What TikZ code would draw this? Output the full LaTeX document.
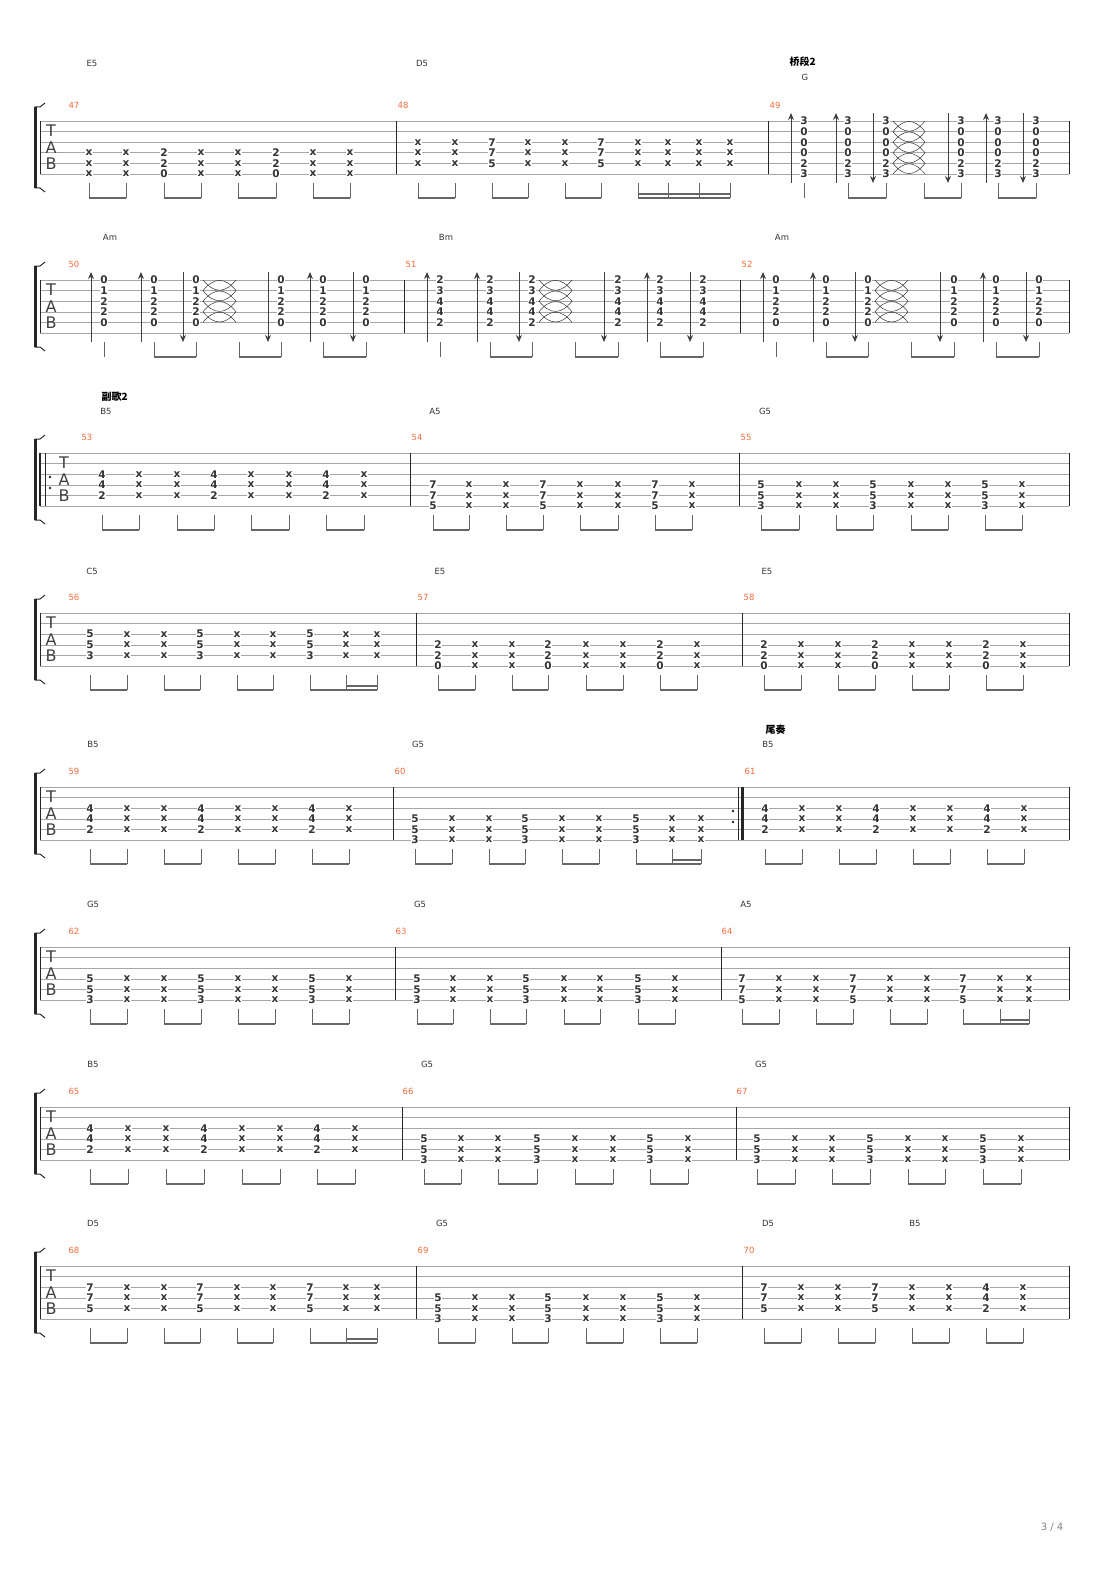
\documentclass[tikz,border=0pt]{standalone}
\usepackage{fontspec}
\setmainfont{DejaVu Sans}
\newfontfamily\cjk{Noto Sans CJK SC}
\usetikzlibrary{arrows.meta}
\definecolor{mnum}{HTML}{F26B3A}
\definecolor{stemc}{HTML}{666666}
\tikzset{fret/.style={fill=white,inner sep=0.3pt,font=\bfseries\fontsize{10.5}{10}\selectfont,text=black!80},
  sline/.style={black!35,line width=0.6pt},
  bar/.style={black!85,line width=0.9pt},
  stem/.style={stemc,line width=0.8pt},
  beam/.style={stemc,line width=2.6pt},
  strum/.style={black!75,line width=1pt,-{Stealth[length=7pt,width=6pt]}},
  ring/.style={black!80,line width=0.5pt},
  chd/.style={font=\fontsize{8.5}{8}\selectfont,text=black!80},
  mno/.style={font=\fontsize{8.5}{8}\selectfont,text=mnum},
  sect/.style={font=\cjk\bfseries\fontsize{10}{9}\selectfont,anchor=west},
  tabl/.style={font=\fontsize{16}{15}\selectfont,text=black!75,inner sep=0pt}}
% x, staff top, first string, frets
\newcommand\tabcol[4]{\foreach \f [count=\i from #3] in {#4}
  {\node[fret] (f#1-\i) at (#1,#2+\i*10.6-10.6) {\f};}}
% power chord measure: top, string, frets, chord columns, muted columns
\newcommand\pw[5]{\foreach \x in {#4}{\tabcol{\x}{#1}{#2}{#3}}
  \foreach \x in {#5}{\tabcol{\x}{#1}{#2}{x,x,x}}}
\newcommand\stm[2]{\draw[stem] (#2,#1+62) -- (#2,#1+77);}
\newcommand\bms[2]{\foreach \a/\b in {#2}{\stm{#1}{\a}\stm{#1}{\b}
  \draw[beam] (\a-0.4,#1+77) -- (\b+0.4,#1+77);}}
\newcommand\bmt[4]{\stm{#1}{#2}\stm{#1}{#3}\stm{#1}{#4}
  \draw[beam] (#2-0.4,#1+77) -- (#4+0.4,#1+77);
  \draw[beam] (#3-0.4,#1+73) -- (#4+0.4,#1+73);}
\newcommand\bmq[5]{\stm{#1}{#2}\stm{#1}{#3}\stm{#1}{#4}\stm{#1}{#5}
  \draw[beam] (#2-0.4,#1+77) -- (#5+0.4,#1+77);
  \draw[beam] (#2-0.4,#1+73) -- (#5+0.4,#1+73);}
% strum arrows: top, up list, down list
\newcommand\strums[3]{\foreach \x in {#2}{\draw[strum] (\x,#1+62) -- (\x,#1-8);}
  \foreach \x in {#3}{\draw[strum] (\x,#1-8) -- (\x,#1+62);}}
% let ring curves: x1, x2, top, strings
\newcommand\rng[4]{\foreach \k in {1,...,\numexpr#4-1\relax}{
  \draw[ring] (#1,#3+\k*10.6-10.6) .. controls (#1+11,#3+\k*10.6+3) and (#2-11,#3+\k*10.6+3) .. (#2,#3+\k*10.6-10.6);
  \draw[ring] (#1,#3+\k*10.6) .. controls (#1+11,#3+\k*10.6-13.6) and (#2-11,#3+\k*10.6-13.6) .. (#2,#3+\k*10.6);}}
% staff: top, barlines, TAB x
\newcommand\staff[3]{
  \foreach \k in {0,...,5}{\draw[sline] (40,#1+\k*10.6) -- (1069,#1+\k*10.6);}
  \foreach \x in {#2,1069}{\draw[bar] (\x,#1) -- (\x,#1+53);}
  \draw[black!85,line width=0.6pt] (40,#1) -- (40,#1+53);
  \draw[black!85,line width=2.6pt] (35.5,#1-14) -- (35.5,#1+67);
  \draw[black!85,line width=1pt] (34.5,#1-14) -- (40,#1-14) -- (45,#1-18);
  \draw[black!85,line width=1pt] (34.5,#1+67) -- (40,#1+67) -- (45,#1+71);
  \node[tabl] (T#1) at (#3,#1+10) {T};
  \node[tabl] (A#1) at (#3,#1+26.5) {A};
  \node[tabl] (B#1) at (#3,#1+42.5) {B};}
\newcommand\mnums[2]{\foreach \x/\n in {#2}{\node[mno] (m\n) at (\x,#1-16) {\n};}}
\newcommand\chds[2]{\foreach \x/\c in {#2}{\node[chd] (c\x-#1) at (\x,#1) {\c};}}
\begin{document}
\begin{tikzpicture}[x=1pt,y=-1pt]
\useasboundingbox (0,0) rectangle (1110,1570);
% system 1
\staff{121}{396,768}{51}
\mnums{121}{74/47,403/48,775/49}
\chds{63}{92/E5,422/D5}
\chds{77}{805/G}
\node[sect] (s1) at (786,62) {桥段2};
\pw{121}{4}{2,2,0}{164,276}{89,126,201,238,313,350}
\bms{121}{89/126,164/201,238/276,313/350}
\pw{121}{3}{7,7,5}{492,601}{418,455,528,565,638,668,699,730}
\bms{121}{418/455,492/528,565/601}
\bmq{121}{638}{668}{699}{730}
\foreach \x in {804,848,886,961,998,1036}{\tabcol{\x}{121}{1}{3,0,0,0,2,3}}
\stm{121}{804}
\bms{121}{848/886,924/961,998/1036}
\strums{121}{791,836,986}{873,948,1023}
\rng{893}{925}{121}{6}
% system 2
\staff{280}{404,740}{51}
\mnums{280}{74/50,411/51,747/52}
\chds{237}{110/Am,446/Bm,782/Am}
\foreach \x in {104,154,196,281,323,366}{\tabcol{\x}{280}{1}{0,1,2,2,0}}
\stm{280}{104}
\bms{280}{154/196,239/281,323/366}
\strums{280}{91,141,310}{183,268,353}
\rng{203}{236}{280}{5}
\foreach \x in {440,490,532,618,660,703}{\tabcol{\x}{280}{1}{2,3,4,4,2}}
\stm{280}{440}
\bms{280}{490/532,575/618,660/703}
\strums{280}{427,477,647}{519,604,690}
\rng{539}{572}{280}{5}
\foreach \x in {776,826,868,954,996,1039}{\tabcol{\x}{280}{1}{0,1,2,2,0}}
\stm{280}{776}
\bms{280}{826/868,911/954,996/1039}
\strums{280}{763,813,983}{855,940,1026}
\rng{875}{908}{280}{5}
% system 3
\staff{453}{410,739}{64}
\draw[black!85,line width=2.6pt] (40,453) -- (40,506);
\draw[black!85,line width=0.7pt] (45,453) -- (45,506);
\fill[black!85] (50,477) circle (1.3) (50,488) circle (1.3);
\mnums{453}{87/53,417/54,746/55}
\chds{411}{106/B5,435/A5,765/G5}
\node[sect] (s3) at (98,397) {副歌2};
\pw{453}{3}{4,4,2}{102,214,326}{139,177,251,289,364}
\bms{453}{102/139,177/214,251/289,326/364}
\pw{453}{4}{7,7,5}{433,543,655}{469,506,580,618,692}
\bms{453}{433/469,506/543,580/618,655/692}
\pw{453}{4}{5,5,3}{761,873,985}{799,836,911,948,1022}
\bms{453}{761/799,836/873,911/948,985/1022}
% system 4
\staff{613}{416,742}{51}
\mnums{613}{74/56,423/57,749/58}
\chds{571}{92/C5,440/E5,767/E5}
\pw{613}{3}{5,5,3}{90,200,310}{127,164,237,273,346,377}
\bms{613}{90/127,164/200,237/273}
\bmt{613}{310}{346}{377}
\pw{613}{4}{2,2,0}{438,548,660}{475,512,586,623,697}
\bms{613}{438/475,512/548,586/623,660/697}
\pw{613}{4}{2,2,0}{764,875,986}{801,838,912,949,1023}
\bms{613}{764/801,838/875,912/949,986/1023}
% system 5
\staff{787}{393}{51}
\fill[black!85] (733,811) circle (1.3) (733,822) circle (1.3);
\draw[black!85,line width=0.7pt] (738,787) -- (738,840);
\draw[black!85,line width=2.6pt] (742.5,787) -- (742.5,840);
\mnums{787}{74/59,400/60,750/61}
\chds{744}{93/B5,418/G5,768/B5}
\node[sect] (s5) at (762,730) {尾奏};
\pw{787}{3}{4,4,2}{90,201,312}{127,164,238,275,349}
\bms{787}{90/127,164/201,238/275,312/349}
\pw{787}{4}{5,5,3}{415,525,636}{452,489,562,599,672,701}
\bms{787}{415/452,489/525,562/599}
\bmt{787}{636}{672}{701}
\pw{787}{3}{4,4,2}{765,876,987}{802,839,913,950,1024}
\bms{787}{765/802,839/876,913/950,987/1024}
% system 6
\staff{947}{395,721}{51}
\mnums{947}{74/62,401/63,727/64}
\chds{904}{93/G5,420/G5,746/A5}
\pw{947}{4}{5,5,3}{90,201,312}{127,164,238,275,349}
\bms{947}{90/127,164/201,238/275,312/349}
\pw{947}{4}{5,5,3}{417,526,638}{453,490,564,600,675}
\bms{947}{417/453,490/526,564/600,638/675}
\pw{947}{4}{7,7,5}{742,853,963}{779,816,890,927,1000,1029}
\bms{947}{742/779,816/853,890/927}
\bmt{947}{963}{1000}{1029}
% system 7
\staff{1107}{402,736}{51}
\mnums{1107}{74/65,408/66,742/67}
\chds{1064}{93/B5,427/G5,761/G5}
\pw{1107}{3}{4,4,2}{90,204,317}{128,166,242,280,355}
\bms{1107}{90/128,166/204,242/280,317/355}
\pw{1107}{4}{5,5,3}{424,537,650}{461,498,575,613,688}
\bms{1107}{424/461,498/537,575/613,650/688}
\pw{1107}{4}{5,5,3}{757,870,983}{795,832,908,945,1021}
\bms{1107}{757/795,832/870,908/945,983/1021}
% system 8
\staff{1266}{416,742}{51}
\mnums{1266}{74/68,423/69,749/70}
\chds{1223}{93/D5,442/G5,768/D5,915/B5}
\pw{1266}{3}{7,7,5}{90,200,310}{127,164,237,273,346,377}
\bms{1266}{90/127,164/200,237/273}
\bmt{1266}{310}{346}{377}
\pw{1266}{4}{5,5,3}{438,548,660}{475,512,586,623,697}
\bms{1266}{438/475,512/548,586/623,660/697}
\pw{1266}{3}{7,7,5}{764,875}{801,838,912,949,1023}
\tabcol{986}{1266}{3}{4,4,2}
\bms{1266}{764/801,838/875,912/949,986/1023}
\node[font=\fontsize{10}{10}\selectfont,text=black!50] (pg) at (1052,1527) {3 / 4};
\end{tikzpicture}
\end{document}
